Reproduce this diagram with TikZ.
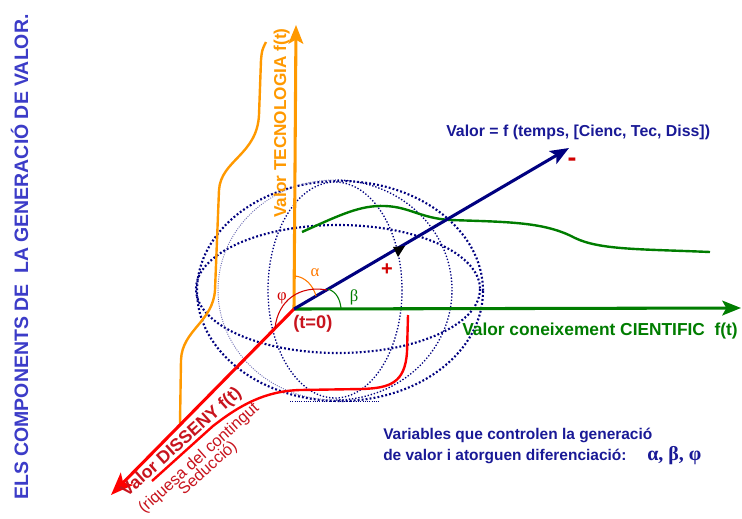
\documentclass[tikz,border=0pt]{standalone}
\usepackage{fontspec}
\setmainfont{Liberation Sans}
\newfontfamily\grfont{Liberation Serif}
\usetikzlibrary{arrows.meta}
\definecolor{tblue}{RGB}{60,60,200}
\definecolor{navytxt}{RGB}{25,25,150}
\definecolor{navyax}{RGB}{0,0,128}
\definecolor{orng}{RGB}{255,153,0}
\definecolor{grn}{RGB}{0,125,0}
\definecolor{dred}{RGB}{200,20,30}
\definecolor{brred}{RGB}{255,0,0}
\definecolor{sign}{RGB}{210,0,0}
\definecolor{lightdot}{RGB}{110,110,180}
\tikzset{
  thickdot/.style={draw=navyax,line width=1.6pt,dash pattern=on 1.4pt off 1.6pt},
  meddot/.style={draw=navyax,line width=1.0pt,dash pattern=on 1.0pt off 1.4pt},
  thindot/.style={draw=lightdot,line width=0.7pt,dash pattern=on 0.7pt off 1.0pt},
  axis/.style={line width=2.3pt,-{Stealth[length=14pt,width=11pt,inset=3pt]}},
  curve/.style={line width=1.8pt},
  anglearc/.style={line width=0.8pt},
  lbl/.style={inner sep=0pt,font=\bfseries},
}
\begin{document}
\begin{tikzpicture}[x=0.75pt,y=-0.75pt]
\useasboundingbox[fill=white] (0,0) rectangle (742,518);

% sphere wireframe
\draw[thickdot] (340,291) ellipse [x radius=143, y radius=110];
\draw[thickdot] (338,289) ellipse [x radius=142, y radius=64];
\draw[meddot] (335,290) ellipse [x radius=67, y radius=108];
\begin{scope}
  \clip (335,0) rectangle (742,518);
  \draw[meddot] (335,290) ellipse [x radius=117, y radius=110];
\end{scope}
\begin{scope}
  \clip (0,0) rectangle (335,518);
  \draw[thindot] (335,290) ellipse [x radius=117, y radius=110];
\end{scope}
\coordinate (bl) at (290,401);
\coordinate (br) at (380,401);
\draw[thindot,draw=navyax] (bl) -- (br);

% curves
\draw[orng,curve] (180,423) -- (181,360) .. controls (182,330) and (213,322) .. (215,290)
   -- (219,190) .. controls (221,160) and (257,155) .. (259,115) -- (261,60) .. controls (262,50) .. (266,42);
\draw[grn,curve] (302,232) .. controls (340,215) and (360,205) .. (385,206)
   .. controls (410,207) and (420,218) .. (450,220)
   .. controls (510,222) and (545,222) .. (575,238)
   .. controls (600,250) and (640,249) .. (710,252);
\draw[brred,curve] (408,315) -- (407,352) .. controls (405,383) and (390,388) .. (362,389)
   -- (300,390) .. controls (265,391) and (240,405) .. (213,426) -- (152,481);

% axes
\coordinate (O) at (294,309);
\coordinate (Ttip) at (296,25);
\coordinate (Ctip) at (741,308);
\coordinate (Vtip) at (569,148);
\coordinate (Dtip) at (111,495);
\draw[axis,orng] (O) -- (Ttip);
\draw[axis,grn] (O) -- (Ctip);
\draw[axis,brred,-{Stealth[length=17pt,width=13pt,inset=4pt]}] (O) -- (Dtip);
\draw[axis,navyax] (O) -- (Vtip);
\fill[black] (393,247) -- (405,246) -- (398,257) -- cycle;

% angle arcs
\draw[anglearc,orng!80!red] (295,276) .. controls (305,277) and (313,285) .. (316,296);
\draw[anglearc,grn] (328,289) .. controls (337,292) and (340,300) .. (341,308);
\draw[anglearc,sign] (275,328) .. controls (278,300) and (300,285) .. (327,290);

% labels
\node[lbl,tblue,rotate=90,anchor=base west,font=\bfseries\fontsize{14.6}{16}\selectfont] (title) at (28,500) {ELS COMPONENTS DE\ \ LA GENERACIÓ DE VALOR.};
\node[lbl,orng,rotate=90,anchor=base west,font=\bfseries\fontsize{12.9}{14}\selectfont] (tec) at (286,218) {Valor TECNOLOGIA f(t)};
\node[lbl,grn,anchor=base west,font=\bfseries\fontsize{13}{14}\selectfont] (cie) at (462,335) {Valor coneixement CIENTIFIC\ \ f(t)};
\node[lbl,navytxt,anchor=base west,font=\bfseries\fontsize{11.9}{13}\selectfont] (val) at (446,136) {Valor = f (temps, [Cienc, Tec, Diss])};
\node[lbl,dred,rotate=42,anchor=base west,font=\bfseries\fontsize{13.3}{14}\selectfont] (dis) at (127,498) {Valor DISSENY f(t)};
\node[inner sep=0pt,dred,rotate=42,anchor=base west,font=\fontsize{12.2}{13}\selectfont] (riq) at (144,514) {(riquesa del contingut};
\node[inner sep=0pt,dred,rotate=42,anchor=base west,font=\fontsize{12.2}{13}\selectfont] (sed) at (184,496) {Seducció)};
\node[lbl,dred,anchor=base west,font=\bfseries\fontsize{13.7}{14}\selectfont] (t0) at (293,328) {(t=0)};
\node[lbl,navytxt,anchor=base west,font=\bfseries\fontsize{11.6}{13}\selectfont] (var1) at (383,439) {Variables que controlen la generació};
\node[lbl,navytxt,anchor=base west,font=\bfseries\fontsize{11.6}{13}\selectfont] (var2) at (383,460) {de valor i atorguen diferenciació:};
\node[lbl,navytxt,anchor=base west,font=\grfont\bfseries\fontsize{15}{16}\selectfont] (gr) at (647,460) {α, β, φ};
\node[inner sep=0pt,orng!80!red,font=\grfont\fontsize{12.5}{13}\selectfont] (alpha) at (315,273) {α};
\node[inner sep=0pt,grn,font=\grfont\fontsize{12.5}{13}\selectfont] (beta) at (354,297) {β};
\node[inner sep=0pt,sign,font=\grfont\fontsize{12.5}{13}\selectfont] (phi) at (282,298) {φ};
\node[lbl,sign,font=\bfseries\fontsize{15}{16}\selectfont] (plus) at (387,270) {+};
\node[lbl,sign,font=\bfseries\fontsize{20}{20}\selectfont] (minus) at (572,162) {-};
\end{tikzpicture}
\end{document}
